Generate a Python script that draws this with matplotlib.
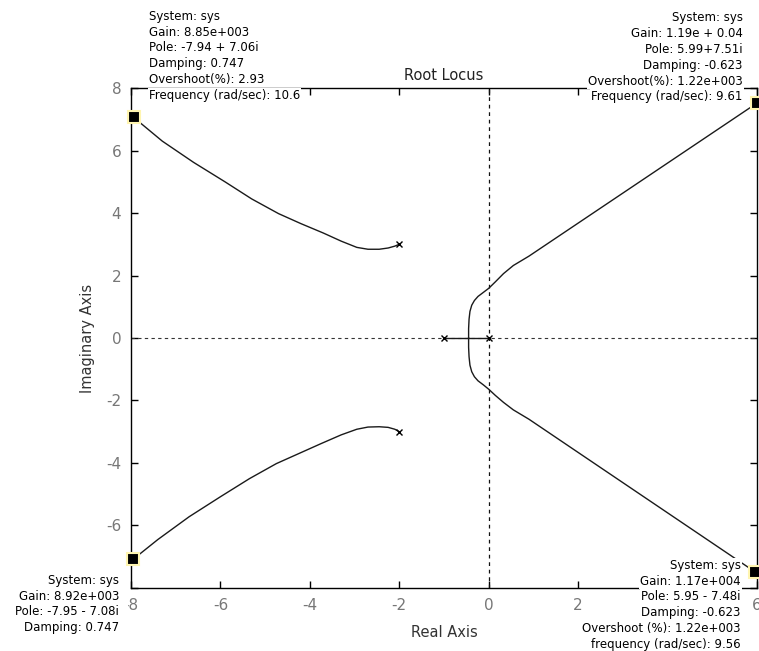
import numpy as np
import matplotlib
matplotlib.use("Agg")
import matplotlib.pyplot as plt

plt.rcParams["font.family"] = ["DejaVu Sans"]
plt.rcParams["axes.unicode_minus"] = False

# root locus branches
ul_re = [-2.0, -2.10, -2.25, -2.45, -2.70, -2.95, -3.30, -3.70, -4.20, -4.70,
         -5.30, -5.90, -6.60, -7.30, -7.94]
ul_im = [3.0, 2.94, 2.88, 2.84, 2.84, 2.90, 3.10, 3.36, 3.66, 3.98,
         4.45, 5.00, 5.62, 6.30, 7.06]
ll_re = [-2.0, -2.10, -2.25, -2.45, -2.70, -2.95, -3.30, -3.75, -4.25, -4.75,
         -5.35, -6.00, -6.70, -7.40, -7.95]
ll_im = [-3.0, -2.92, -2.86, -2.84, -2.85, -2.92, -3.10, -3.38, -3.70, -4.02,
         -4.50, -5.08, -5.72, -6.45, -7.08]
ur_re = [-0.45, -0.45, -0.44, -0.42, -0.38, -0.32, -0.24, -0.12, 0.0, 0.15,
         0.33, 0.55, 0.90, 5.99]
ur_im = [0.0, 0.30, 0.60, 0.85, 1.05, 1.20, 1.33, 1.46, 1.59, 1.80,
         2.06, 2.32, 2.62, 7.51]
lr_re = [-0.45, -0.45, -0.44, -0.42, -0.38, -0.32, -0.24, -0.12, 0.0, 0.15,
         0.33, 0.55, 0.90, 5.95]
lr_im = [0.0, -0.30, -0.60, -0.87, -1.08, -1.24, -1.37, -1.50, -1.64, -1.84,
         -2.06, -2.30, -2.60, -7.48]
real_re = [-1.0, 0.0]
real_im = [0.0, 0.0]

pole_re = [-2, -2, -1, 0]
pole_im = [3, -3, 0, 0]

# data tips
tip_re = [-7.94, 5.99, -7.95, 5.95]
tip_im = [7.06, 7.51, -7.08, -7.48]
tip_lines = [
    ["System: sys", "Gain: 8.85e+003", "Pole: -7.94 + 7.06i", "Damping: 0.747",
     "Overshoot(%): 2.93", "Frequency (rad/sec): 10.6"],
    ["System: sys", "Gain: 1.19e + 0.04", "Pole: 5.99+7.51i", "Damping: -0.623",
     "Overshoot(%): 1.22e+003", "Frequency (rad/sec): 9.61"],
    ["System: sys", "Gain: 8.92e+003", "Pole: -7.95 - 7.08i", "Damping: 0.747"],
    ["System: sys", "Gain: 1.17e+004", "Pole: 5.95 - 7.48i", "Damping: -0.623",
     "Overshoot (%): 1.22e+003", "frequency (rad/sec): 9.56"],
]
tip_dx = [15, -14, -14, -14]
tip_dy = [101.0, 85.5, -15, 6.5]   # first line centre, pixels above the marker
tip_ha = ["left", "right", "right", "right"]
step = 15.8

xticks = np.arange(-8, 7, 2)
yticks = np.arange(-8, 9, 2)

fig = plt.figure(figsize=(7.59, 6.51), dpi=100)
ax = fig.add_axes([0.1726, 0.0968, 0.8248, 0.768])

ax.axhline(0, color="#333333", lw=0.8, ls=(0, (3, 3)))
ax.axvline(0, color="#111111", lw=0.9, ls=(0, (3, 3)))

lc = "#1a1a1a"
for re, im in [(ul_re, ul_im), (ll_re, ll_im), (ur_re, ur_im), (lr_re, lr_im), (real_re, real_im)]:
    ax.plot(re, im, color=lc, lw=1.0)
ax.plot(pole_re, pole_im, "x", color="black", ms=5, mew=1.0)

ax.plot(tip_re, tip_im, "s", ms=9, mfc="black", mec="#fff5b0", mew=1.5,
        clip_on=False, zorder=11)

for i, (re, im, lines) in enumerate(zip(tip_re, tip_im, tip_lines)):
    if i == 2:
        # bottom-left tip: one block, its box also hides the minus of "-8"
        ax.annotate("\n".join(lines), xy=(re, im),
                    xytext=(tip_dx[i], tip_dy[i]), textcoords="offset pixels",
                    ha="right", va="top", multialignment="right", fontsize=8.5,
                    linespacing=1.25, annotation_clip=False, zorder=10,
                    bbox=dict(boxstyle="square,pad=0.78", fc="white", ec="none"))
        continue
    # one white box per line
    for k, line in enumerate(lines):
        ax.annotate(line, xy=(re, im),
                    xytext=(tip_dx[i], tip_dy[i] - k * step), textcoords="offset pixels",
                    ha=tip_ha[i], va="center", fontsize=8.5,
                    annotation_clip=False, zorder=10,
                    bbox=dict(boxstyle="square,pad=0.1", fc="white", ec="none"))

ax.set_xlim(-8, 6)
ax.set_ylim(-8, 8)
ax.set_xticks(xticks)
ax.set_yticks(yticks)
ax.tick_params(direction="in", length=5, width=1, top=True, right=True,
               labelsize=11, labelcolor="#777777", pad=7)
for s in ax.spines.values():
    s.set_linewidth(1.0)
    s.set_color("black")

ax.set_title("Root Locus", fontsize=10.5, color="#222222", pad=6)
ax.set_xlabel("Real Axis", fontsize=10.5, color="#333333", labelpad=9)
ax.set_ylabel("Imaginary Axis", fontsize=10.5, color="#333333", labelpad=8)

fig.savefig("out.png", dpi=100)
